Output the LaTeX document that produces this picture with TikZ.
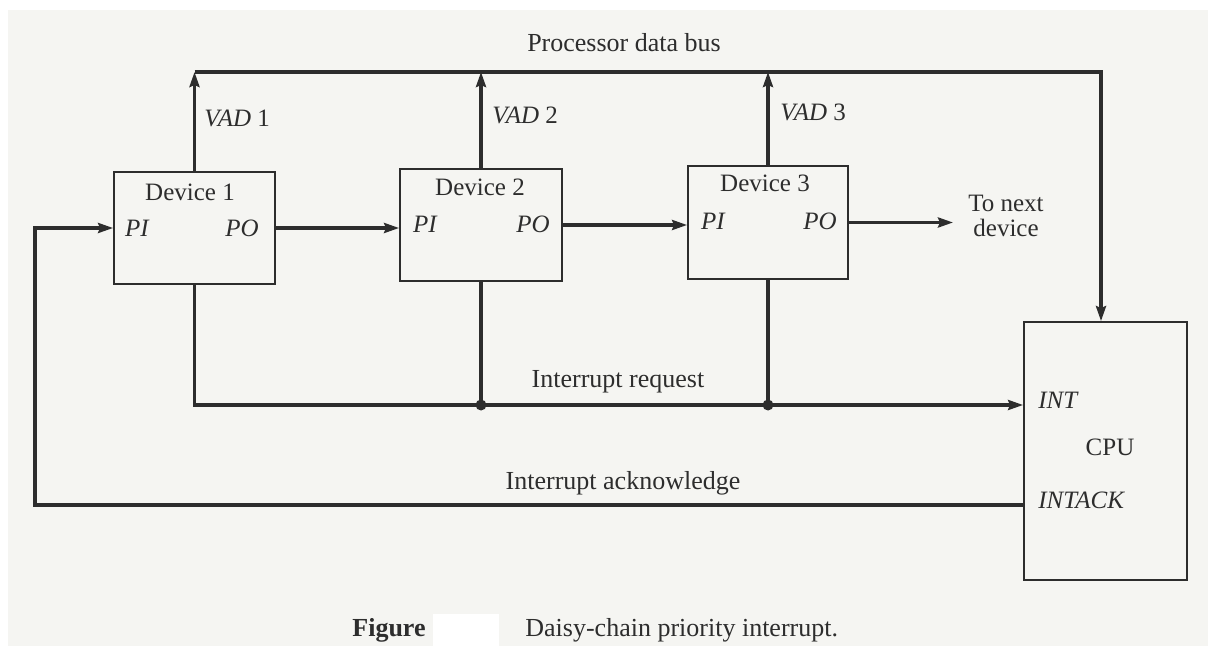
\documentclass[tikz,border=0pt]{standalone}
\usepackage{fontspec}
\setmainfont{Liberation Serif}
\usetikzlibrary{arrows.meta,calc}
\definecolor{paper}{RGB}{245,245,242}
\definecolor{ink}{RGB}{45,45,45}

\begin{document}
\begin{tikzpicture}[x=0.5pt,y=-0.5pt,
  wire/.style={draw=ink,line width=1.6pt,line join=miter},
  sig/.style={wire,-{Stealth[length=7.5pt,width=5pt,inset=1pt]}},
  unit/.style={draw=ink,line width=0.9pt,inner sep=0pt},
  lbl/.style={font=\fontsize{12.5}{12.5}\selectfont,text=ink,inner sep=0pt,align=center},
  big/.style={lbl,font=\fontsize{13}{13}\selectfont},
  port/.style={lbl,font=\fontsize{12.5}{12.5}\selectfont\itshape},
  junction/.style={circle,fill=ink,inner sep=0pt,minimum size=5.5pt}]

% paper
\useasboundingbox (0,0) rectangle (1208,646);
\fill[white] (0,0) rectangle (1208,646);
\fill[paper] (8,10) rectangle (1208,646);

% units
\node[unit,minimum width=80.5pt,minimum height=56pt] (d1) at (194.5,228) {};
\node[unit,minimum width=81pt,minimum height=56pt] (d2) at (481,225) {};
\node[unit,minimum width=80pt,minimum height=56.5pt] (d3) at (768,222.5) {};
\node[unit,minimum width=81.5pt,minimum height=129pt] (cpu) at (1105.5,451) {};

% texts inside the units
\node[lbl] (d1t) at (190,192) {Device 1};
\node[port] (d1i) at (137,228) {PI};
\node[port] (d1o) at (242,228) {PO};
\node[lbl] (d2t) at (480,187) {Device 2};
\node[port] (d2i) at (425,224) {PI};
\node[port] (d2o) at (533,224) {PO};
\node[lbl] (d3t) at (765,183) {Device 3};
\node[port] (d3i) at (713,221) {PI};
\node[port] (d3o) at (820,221) {PO};
\node[port,anchor=west] (cint) at (1038,400) {INT};
\node[lbl] (ccpu) at (1110,447) {CPU};
\node[port,anchor=west] (cack) at (1038,500) {INTACK};

% reference levels
\coordinate (busy) at (0,72);
\coordinate (busr) at (1101,72);
\coordinate (irqy) at (0,405);
\coordinate (lp) at (35,505);
\coordinate (nxt) at (953,222.5);

% processor data bus
\draw[sig] (d1.north) -- (d1.north |- busy);
\draw[sig] (d2.north) -- (d2.north |- busy);
\draw[sig] (d3.north) -- (d3.north |- busy);
\draw[sig] (d1.north |- busy) -- (busr) -- (busr |- cpu.north);

% priority chain
\draw[sig] (d1.east) -- (d1.east -| d2.west);
\draw[sig] (d2.east) -- (d2.east -| d3.west);
\draw[sig] (d3.east) -- (nxt);

% interrupt request
\draw[sig] (d1.south) |- (cpu.west |- irqy);
\draw[wire] (d2.south) -- (d2.south |- irqy);
\draw[wire] (d3.south) -- (d3.south |- irqy);
\node[junction] (j2) at (d2.south |- irqy) {};
\node[junction] (j3) at (d3.south |- irqy) {};

% interrupt acknowledge
\draw[sig] (cpu.west |- lp) -- (lp) |- (d1.west);

% line labels
\node[big] (busl) at (624,43) {Processor data bus};
\node[lbl,anchor=west] (v1) at (204,118) {\textit{VAD} 1};
\node[lbl,anchor=west] (v2) at (492,115) {\textit{VAD} 2};
\node[lbl,anchor=west] (v3) at (780,112) {\textit{VAD} 3};
\node[lbl] (tonext) at (1006,216) {To next\\device};
\node[big] (irql) at (618,382) {Interrupt request};
\node[big] (ackl) at (623,483) {Interrupt acknowledge};

% caption
\node[big,anchor=west] (fig) at (352,630) {\bfseries Figure};
\fill[white] (433,614) rectangle (499,646);
\node[big,anchor=west] (cap) at (525,630) {Daisy-chain priority interrupt.};
\end{tikzpicture}
\end{document}
